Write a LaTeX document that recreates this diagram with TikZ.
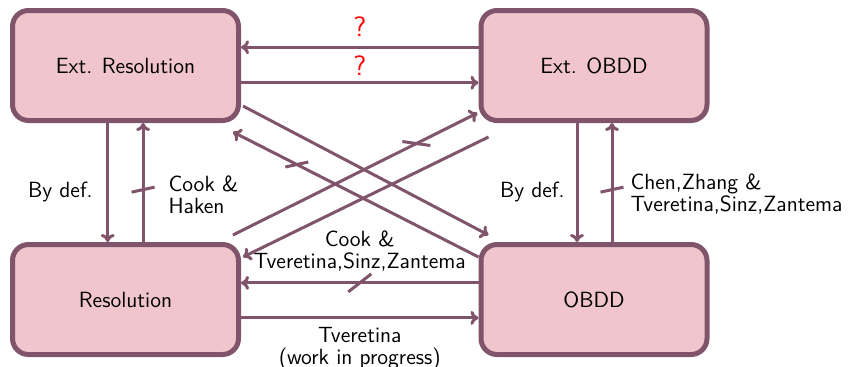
\documentclass[tikz,border=0pt]{standalone}
\usetikzlibrary{arrows.meta,calc}
\definecolor{edge}{RGB}{128,84,106}
\definecolor{boxfill}{RGB}{240,198,204}
\begin{document}
\begin{tikzpicture}[x=0.5pt,y=-0.5pt,
 font=\sffamily\fontsize{11}{11}\selectfont,
 box/.style={draw=edge,fill=boxfill,line width=2.5pt,rounded corners=8pt,minimum width=113pt,minimum height=55pt},
 arr/.style={draw=edge,line width=1.5pt,-{To[length=4pt,width=7pt]}},
 strike/.style={draw=edge,line width=1.5pt},
 lbl/.style={inner sep=0pt},
 qm/.style={red,inner sep=0pt,font=\sffamily\fontsize{14}{14}\selectfont}
]
\useasboundingbox (0,0) rectangle (851,366);
\node[box] (er) at (125.5,65.5) {Ext. Resolution};
\node[box] (eo) at (594,65.5) {Ext. OBDD};
\node[box] (r) at (125.5,299.5) {Resolution};
\node[box] (o) at (594,299.5) {OBDD};

% top horizontal
\draw[arr] ([yshift=9.1pt]eo.west) -- node[qm,above=4.8pt]{?} ([yshift=9.1pt]er.east);
\draw[arr] ([yshift=-8.6pt]er.east) -- node[qm,above=3pt]{?} ([yshift=-8.6pt]eo.west);

% left vertical
\draw[arr] ([xshift=-8.9pt]er.south) -- node[pos=0.58,left=6.8pt,lbl]{By def.} ([xshift=-8.9pt]r.north);
\draw[arr] ([xshift=8.8pt]r.north) -- coordinate[pos=0.44](sl) node[pos=0.4,right=12pt,lbl,align=left]{Cook \&\\Haken} ([xshift=8.8pt]er.south);
\draw[strike] ($(sl)+(-5.75pt,-1.25pt)$) -- ($(sl)+(5.75pt,1.25pt)$);

% right vertical
\draw[arr] ([xshift=-8.5pt]eo.south) -- node[pos=0.58,left=5.5pt,lbl]{By def.} ([xshift=-8.5pt]o.north);
\draw[arr] ([xshift=9pt]o.north) -- coordinate[pos=0.44](sr) node[pos=0.4,right=8.5pt,lbl,align=left]{Chen,Zhang \&\\Tveretina,Sinz,Zantema} ([xshift=9pt]eo.south);
\draw[strike] ($(sr)+(-5.75pt,-1.25pt)$) -- ($(sr)+(5.75pt,1.25pt)$);

% bottom horizontal
\draw[arr] ([yshift=8.3pt]o.west) -- coordinate[pos=0.5](sb) node[above=5pt,lbl,align=center]{Cook \&\\Tveretina,Sinz,Zantema} ([yshift=8.3pt]r.east);
\draw[strike] ($(sb)+(-5.75pt,-4.5pt)$) -- ($(sb)+(5.75pt,4.5pt)$);
\draw[arr] ([yshift=-9.2pt]r.east) -- node[below=4pt,lbl,align=center]{Tveretina\\(work in progress)} ([yshift=-9.2pt]o.west);

% diagonals
\draw[arr] ($(er.south east)+(1pt,8.5pt)$) -- ($(o.north west)+(5pt,3.5pt)$);
\draw[arr] ($(o.north west)+(0pt,-7.5pt)$) -- coordinate[pos=0.74](s2) ($(er.south east)+(-4pt,-4.5pt)$);
\draw[strike] ($(s2)+(-5.75pt,-1.25pt)$) -- ($(s2)+(5.75pt,1.25pt)$);
\draw[arr] ($(r.north east)+(-4pt,3.5pt)$) -- coordinate[pos=0.75](s3) ($(eo.south west)+(-0.5pt,5pt)$);
\draw[strike] ($(s3)+(-7pt,1pt)$) -- ($(s3)+(7pt,-1pt)$);
\draw[arr] ($(eo.south west)+(5pt,-7pt)$) -- ($(r.north east)+(1pt,-7.5pt)$);
\end{tikzpicture}
\end{document}
